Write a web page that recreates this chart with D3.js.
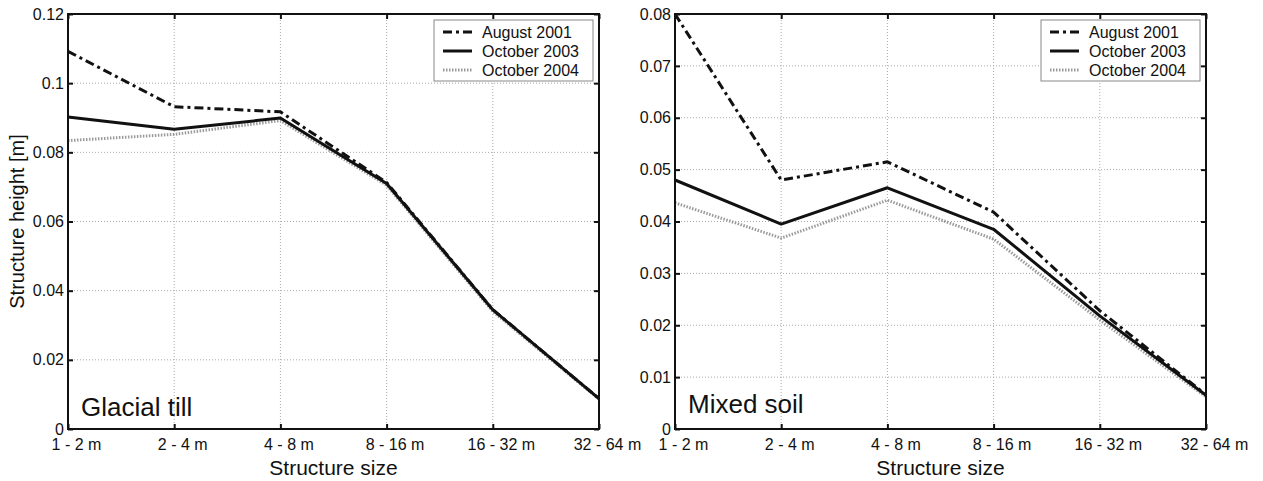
<!DOCTYPE html>
<html>
<head>
<meta charset="utf-8">
<script src="https://cdn.jsdelivr.net/npm/d3@7"></script>
<style>
body { margin: 0; background: #fff; }
text { font-family: "Liberation Sans", Arial, sans-serif; fill: #111; }
</style>
</head>
<body>
<script>
// categories on the x axis
var sizes = ["1 - 2 m", "2 - 4 m", "4 - 8 m", "8 - 16 m", "16 - 32 m", "32 - 64 m"];
var seriesNames = ["August 2001", "October 2003", "October 2004"];

// glacial till, structure height [m]
var tillAug01 = [0.1092, 0.0932, 0.0917, 0.0713, 0.0345, 0.0088];
var tillOct03 = [0.0902, 0.0867, 0.0899, 0.0710, 0.0345, 0.0088];
var tillOct04 = [0.0834, 0.0852, 0.0892, 0.0705, 0.0340, 0.0086];

// mixed soil, structure height [m]
var soilAug01 = [0.0800, 0.0480, 0.0515, 0.0418, 0.0228, 0.0066];
var soilOct03 = [0.0480, 0.0395, 0.0465, 0.0385, 0.0218, 0.0065];
var soilOct04 = [0.0436, 0.0368, 0.0441, 0.0366, 0.0210, 0.0062];

// y tick values
var tillTicks = [0, 0.02, 0.04, 0.06, 0.08, 0.1, 0.12];
var soilTicks = [0, 0.01, 0.02, 0.03, 0.04, 0.05, 0.06, 0.07, 0.08];

var W = 1263, H = 481;
var svg = d3.select("body").append("svg")
    .attr("width", W)
    .attr("height", H);

// line styles per series (August dash-dot, Oct 2003 solid, Oct 2004 grey dotted)
var styles = [
    {stroke: "#111", width: 3, dash: "9,4,3,4"},
    {stroke: "#111", width: 3, dash: null},
    {stroke: "#9a9a9a", width: 3, dash: "1.5,1.5"}
];

var panels = [
    {left: 68, right: 599, top: 14, bottom: 429, max: 0.12, ticks: tillTicks,
     data: [tillAug01, tillOct03, tillOct04], title: "Glacial till", titleY: 416, ylabel: true},
    {left: 675, right: 1206, top: 14, bottom: 429, max: 0.08, ticks: soilTicks,
     data: [soilAug01, soilOct03, soilOct04], title: "Mixed soil", titleY: 413, ylabel: false}
];

function fmt(d) {
    return d === 0 ? "0" : String(+d.toFixed(3));
}

panels.forEach(function(p) {
    var x = d3.scalePoint().domain(sizes).range([p.left, p.right]);
    var y = d3.scaleLinear().domain([0, p.max]).range([p.bottom, p.top]);
    var g = svg.append("g");

    // grid
    g.selectAll("line.gx").data(sizes.slice(1, -1)).enter().append("line")
        .attr("x1", function(d) { return x(d); }).attr("x2", function(d) { return x(d); })
        .attr("y1", p.top).attr("y2", p.bottom)
        .attr("stroke", "#aaa").attr("stroke-width", 1).attr("stroke-dasharray", "1,2");
    g.selectAll("line.gy").data(p.ticks.slice(1, -1)).enter().append("line")
        .attr("y1", function(d) { return y(d); }).attr("y2", function(d) { return y(d); })
        .attr("x1", p.left).attr("x2", p.right)
        .attr("stroke", "#aaa").attr("stroke-width", 1).attr("stroke-dasharray", "1,2");

    // axes with inward ticks on all four sides
    var ax = g.append("g").attr("transform", "translate(0," + p.bottom + ")")
        .call(d3.axisBottom(x).tickSize(-5).tickPadding(10));
    ax.selectAll("text").attr("dx", 8).style("font-size", "16px");
    g.append("g").attr("transform", "translate(0," + p.top + ")")
        .call(d3.axisTop(x).tickSize(-5).tickFormat(""));
    var ay = g.append("g").attr("transform", "translate(" + p.left + ",0)")
        .call(d3.axisLeft(y).tickValues(p.ticks).tickFormat(fmt).tickSize(-5).tickPadding(4));
    ay.selectAll("text").style("font-size", "16px");
    g.append("g").attr("transform", "translate(" + p.right + ",0)")
        .call(d3.axisRight(y).tickValues(p.ticks).tickFormat("").tickSize(-5));
    g.selectAll(".domain").remove();
    g.selectAll(".tick line").attr("stroke", "#111").attr("stroke-width", 2);

    // series lines
    var line = d3.line()
        .x(function(d, i) { return x(sizes[i]); })
        .y(function(d) { return y(d); });
    [2, 1, 0].forEach(function(k) {
        g.append("path")
            .datum(p.data[k])
            .attr("d", line)
            .attr("fill", "none")
            .attr("stroke", styles[k].stroke)
            .attr("stroke-width", styles[k].width)
            .attr("stroke-dasharray", styles[k].dash)
            .attr("stroke-linejoin", "round");
    });

    // frame
    g.append("rect")
        .attr("x", p.left).attr("y", p.top)
        .attr("width", p.right - p.left).attr("height", p.bottom - p.top)
        .attr("fill", "none").attr("stroke", "#111").attr("stroke-width", 2);

    // panel title
    g.append("text").attr("x", p.left + 13).attr("y", p.titleY)
        .style("font-size", "26px").text(p.title);

    // legend
    var lx = p.right - 165, ly = p.top + 6;
    g.append("rect").attr("x", lx).attr("y", ly).attr("width", 159).attr("height", 61)
        .attr("fill", "#fff").attr("stroke", "#888").attr("stroke-width", 1);
    seriesNames.forEach(function(name, k) {
        var ry = ly + 12 + k * 19;
        g.append("line")
            .attr("x1", lx + 9).attr("x2", lx + 38).attr("y1", ry).attr("y2", ry)
            .attr("stroke", styles[k].stroke).attr("stroke-width", styles[k].width)
            .attr("stroke-dasharray", styles[k].dash);
        g.append("text").attr("x", lx + 48).attr("y", ry + 6)
            .style("font-size", "16px").text(name);
    });

    // axis labels
    g.append("text")
        .attr("x", (p.left + p.right) / 2).attr("y", 475)
        .attr("text-anchor", "middle").style("font-size", "21px")
        .text("Structure size");
    if (p.ylabel) {
        g.append("text")
            .attr("transform", "translate(24," + ((p.top + p.bottom) / 2) + ") rotate(-90)")
            .attr("text-anchor", "middle").style("font-size", "20px")
            .text("Structure height [m]");
    }
});
</script>
</body>
</html>
